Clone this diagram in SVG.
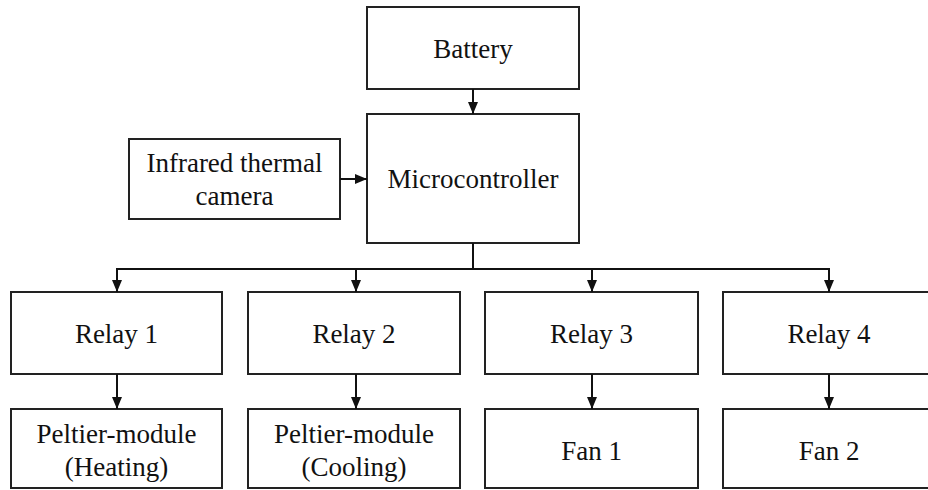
<svg xmlns="http://www.w3.org/2000/svg" width="928" height="490" viewBox="0 0 928 490">
  <style>
    .box { fill: #ffffff; stroke: #222222; stroke-width: 2; }
    .lbl { font-family: "Liberation Serif", "Times New Roman", serif; font-size: 27px; fill: #111111; text-anchor: middle; }
    .wire { fill: none; stroke: #111111; stroke-width: 2; }
  </style>
  <defs>
    <marker id="arrow" viewBox="0 0 12 10" refX="12" refY="5" markerWidth="12" markerHeight="10" markerUnits="userSpaceOnUse" orient="auto">
      <path d="M0,0 L12,5 L0,10 Z" fill="#111111"/>
    </marker>
  </defs>
  <rect width="928" height="490" fill="#ffffff"/>

  <g id="battery">
    <rect class="box" x="367" y="7" width="212" height="82"/>
    <text class="lbl" x="473" y="58">Battery</text>
  </g>
  <g id="microcontroller">
    <rect class="box" x="367" y="114" width="212" height="129"/>
    <text class="lbl" x="473" y="188">Microcontroller</text>
  </g>
  <g id="camera">
    <rect class="box" x="129" y="139" width="211" height="80"/>
    <text class="lbl" x="234.5" y="172">Infrared thermal</text>
    <text class="lbl" x="234.5" y="205">camera</text>
  </g>

  <g id="relay1">
    <rect class="box" x="11" y="292" width="211" height="82"/>
    <text class="lbl" x="116.5" y="343">Relay 1</text>
  </g>
  <g id="relay2">
    <rect class="box" x="248" y="292" width="212" height="82"/>
    <text class="lbl" x="354" y="343">Relay 2</text>
  </g>
  <g id="relay3">
    <rect class="box" x="485" y="292" width="213" height="82"/>
    <text class="lbl" x="591.5" y="343">Relay 3</text>
  </g>
  <g id="relay4">
    <rect class="box" x="723" y="292" width="212" height="82"/>
    <text class="lbl" x="829" y="343">Relay 4</text>
  </g>

  <g id="peltier-heating">
    <rect class="box" x="11" y="409" width="211" height="79"/>
    <text class="lbl" x="116.5" y="443">Peltier-module</text>
    <text class="lbl" x="116.5" y="476">(Heating)</text>
  </g>
  <g id="peltier-cooling">
    <rect class="box" x="248" y="409" width="212" height="79"/>
    <text class="lbl" x="354" y="443">Peltier-module</text>
    <text class="lbl" x="354" y="476">(Cooling)</text>
  </g>
  <g id="fan1">
    <rect class="box" x="485" y="409" width="213" height="79"/>
    <text class="lbl" x="591.5" y="460">Fan 1</text>
  </g>
  <g id="fan2">
    <rect class="box" x="723" y="409" width="212" height="79"/>
    <text class="lbl" x="829" y="460">Fan 2</text>
  </g>

  <g id="connectors">
    <line class="wire" x1="473" y1="89" x2="473" y2="114" marker-end="url(#arrow)"/>
    <line class="wire" x1="340" y1="179" x2="367" y2="179" marker-end="url(#arrow)"/>
    <polyline class="wire" points="473,243 473,269"/>
    <polyline class="wire" points="117,280 117,269 829,269 829,280"/>
    <line class="wire" x1="117" y1="269" x2="117" y2="292" marker-end="url(#arrow)"/>
    <line class="wire" x1="356" y1="269" x2="356" y2="292" marker-end="url(#arrow)"/>
    <line class="wire" x1="592" y1="269" x2="592" y2="292" marker-end="url(#arrow)"/>
    <line class="wire" x1="829" y1="269" x2="829" y2="292" marker-end="url(#arrow)"/>
    <line class="wire" x1="117" y1="374" x2="117" y2="409" marker-end="url(#arrow)"/>
    <line class="wire" x1="356" y1="374" x2="356" y2="409" marker-end="url(#arrow)"/>
    <line class="wire" x1="592" y1="374" x2="592" y2="409" marker-end="url(#arrow)"/>
    <line class="wire" x1="829" y1="374" x2="829" y2="409" marker-end="url(#arrow)"/>
  </g>
</svg>
